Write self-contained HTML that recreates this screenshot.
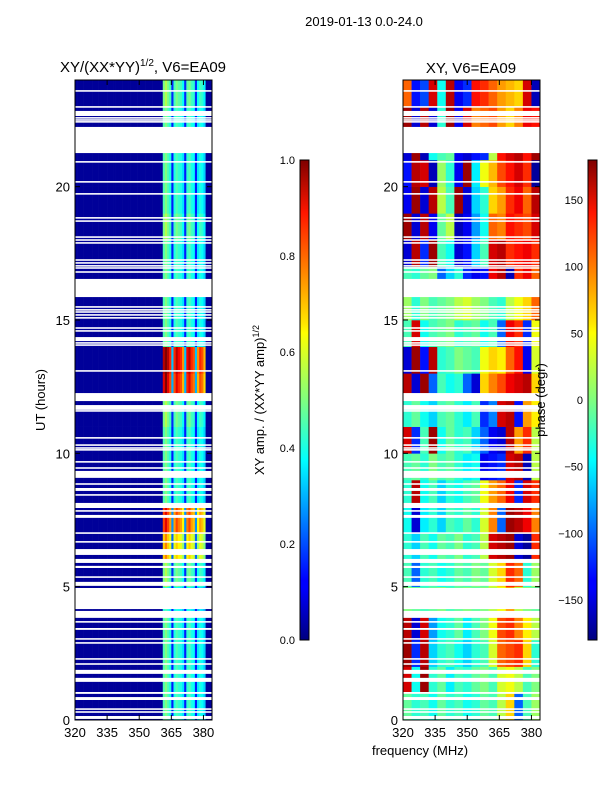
<!DOCTYPE html>
<html><head><meta charset="utf-8"><style>
body{margin:0;background:#fff;}
svg text{font-family:"Liberation Sans",sans-serif;}
</style></head><body>
<svg id="fig" width="600" height="800" xmlns="http://www.w3.org/2000/svg">
<defs>
<linearGradient id="jet" x1="0" y1="1" x2="0" y2="0">
<stop offset="0" stop-color="#00007f"/><stop offset="0.11" stop-color="#0000ff"/><stop offset="0.125" stop-color="#0000ff"/>
<stop offset="0.34" stop-color="#00dcff"/><stop offset="0.375" stop-color="#00ffff"/><stop offset="0.5" stop-color="#7fff7f"/>
<stop offset="0.64" stop-color="#ffff00"/><stop offset="0.66" stop-color="#ffe600"/><stop offset="0.89" stop-color="#ff1600"/>
<stop offset="1" stop-color="#7f0000"/></linearGradient>
</defs>
<text x="364" y="26" font-size="13" text-anchor="middle">2019-01-13 0.0-24.0</text>
<text x="143" y="72" font-size="15" text-anchor="middle">XY/(XX*YY)<tspan font-size="10" dy="-6">1/2</tspan><tspan dy="6">, V6=EA09</tspan></text>
<text x="471" y="73" font-size="15" text-anchor="middle">XY, V6=EA09</text>
<g id="left"></g>
<g id="right"></g>
<g id="axes"></g>
<text transform="translate(45,400) rotate(-90)" font-size="13" text-anchor="middle">UT (hours)</text>
<text transform="translate(264,400) rotate(-90)" font-size="13" text-anchor="middle">XY amp. / (XX*YY amp)<tspan font-size="9" dy="-5">1/2</tspan></text>
<text transform="translate(545,400) rotate(-90)" font-size="13" text-anchor="middle">phase (degr)</text>
<text x="420" y="755" font-size="13" text-anchor="middle">frequency (MHz)</text>
<rect x="300" y="160" width="9" height="480" fill="url(#jet)" stroke="#000" stroke-width="1"/>
<rect x="588" y="160" width="9" height="480" fill="url(#jet)" stroke="#000" stroke-width="1"/>
</svg>
<script>
const freqTicks=[320,335,350,365,380];
const hourTicks=[0,5,10,15,20];
const ampTicks=[0.0,0.2,0.4,0.6,0.8,1.0];
const phaseTicks=[-150,-100,-50,0,50,100,150];
const gapStart=[23.56,22.96,22.65,22.55,22.47,22.40,21.26,20.90,20.15,19.70,18.80,18.68,18.08,17.97,17.86,17.22,17.11,17.00,16.92,16.77,15.86,15.46,15.35,15.27,15.16,15.05,14.67,14.56,14.21,14.11,14.03,13.06,11.96,11.63,11.56,10.55,10.28,10.17,10.10,9.65,9.42,9.08,8.82,8.59,8.41,7.95,7.81,7.58,6.98,6.65,6.19,5.89,5.70,5.33,5.03,4.16,3.83,3.65,3.38,3.01,2.86,2.26,2.07,1.73,1.43,0.98,0.75,0.38,0.27,0.04];
const gapEnd=[23.62,23.02,22.84,22.61,22.53,22.46,22.24,20.96,20.21,19.76,18.86,18.74,18.14,18.03,17.92,17.28,17.17,17.06,16.98,16.83,16.54,15.52,15.41,15.33,15.22,15.11,14.73,14.62,14.36,14.17,14.09,13.12,12.26,11.81,11.62,10.61,10.34,10.23,10.16,9.71,9.48,9.34,8.88,8.70,8.47,8.14,7.87,7.69,7.04,6.71,6.41,6.04,5.78,5.39,5.18,4.95,4.09,3.71,3.45,3.07,2.92,2.32,2.13,1.88,1.58,1.05,0.86,0.44,0.33,0.15];
const ampProfile=[.025,.025,.025,.025,.025,.025,.025,.025,.025,.025,.025,.025,.025,.025,.025,.025,.025,.025,.025,.025,.025,.025,.025,.025,.025,.025,.025,.025,.025,.025,.025,.025,.025,.025,.025,.025,.025,.025,.025,.025,.025,.45,.5,.45,.4,.15,.4,.45,.42,.4,.35,.15,.42,.45,.4,.38,.15,.35,.4,.38,.33,.025,.025,.025];
const ampHourScale=[1,1,1,1,0.9,1.1,1.5,1.8,1,1,1,1.1,2,2.1,1,1,1,1,1.1,1,1,1,1,1.1];
const phase=[
[-10,-30,-20,-40,-10,-30,-20,-40,-30,-10,-20,20,60,-100,-20,10],
[150,-40,170,-30,-10,-50,-20,-30,-10,0,-20,30,40,20,-20,0],
[170,-120,160,-60,-30,-20,-40,-60,-30,-20,30,100,110,120,60,-30],
[160,-150,150,-80,-40,-30,-10,-50,-20,0,40,110,120,90,50,20],
[0,-10,-20,-10,0,-20,-10,0,-10,0,20,40,80,20,0,-10],
[-20,-100,-30,-20,-40,-30,-10,-20,0,-10,30,60,120,100,-30,10],
[-30,-60,-20,-40,-10,-20,0,-30,-20,20,150,160,170,-150,-170,120],
[-40,-150,-50,-30,-60,-20,-30,-10,-30,30,90,-100,170,160,140,90],
[-30,160,-40,-20,-60,-30,-40,-20,-10,40,80,100,140,-120,150,120],
[-20,-10,-30,0,-20,-10,-30,-50,-40,-140,-130,-120,150,160,-160,20],
[150,-120,-20,170,-40,-10,-30,-20,-60,-100,-140,-150,160,80,120,20],
[-30,-10,-40,-60,-20,-10,-30,-50,-20,-120,-90,150,160,-130,80,50],
[160,-150,170,-100,-20,-40,-30,-100,-150,60,90,110,140,150,160,60],
[-150,170,-130,160,-30,-20,0,-10,-20,40,60,50,100,130,-140,30],
[-20,150,-40,-20,-10,0,-30,-20,-10,-40,-20,-100,140,120,-120,40],
[10,-30,0,-20,-10,0,20,30,10,0,-20,-30,20,40,60,100],
[-20,-30,-10,0,-100,-60,-30,-120,-140,-130,140,160,-160,120,140,100],
[-150,160,-120,170,-20,-40,-150,-130,-60,-20,150,160,120,130,140,120],
[170,-150,160,-140,-10,20,-160,-140,-80,-40,100,90,130,120,110,150],
[-140,170,-150,160,20,-20,170,-150,-60,-30,60,80,120,140,100,160],
[-130,160,150,-160,10,-30,-140,170,-50,40,70,110,130,150,120,-170],
[-150,170,-160,-40,-20,-10,-140,-150,-130,-120,20,130,150,160,130,170],
[170,-150,160,-150,-30,170,-140,150,90,100,110,80,60,90,140,130],
[100,-130,-110,150,-40,160,-140,-120,130,120,100,80,70,60,150,-160]];

const NS='http://www.w3.org/2000/svg';
const F0=320,F1=384,PY0=80,PY1=720;
const panels=[{x0:75,x1:212},{x0:403,x1:540}];
function xs(p,f){return p.x0+(f-F0)/(F1-F0)*(p.x1-p.x0);}
function ys(h){return PY1-h/24*(PY1-PY0);}
function cl(v){return Math.max(0,Math.min(1,v));}
function jet(t){t=cl(t);const r=cl(1.5-Math.abs(4*t-3)),g=cl(1.5-Math.abs(4*t-2)),b=cl(1.5-Math.abs(4*t-1));
return 'rgb('+Math.round(r*255)+','+Math.round(g*255)+','+Math.round(b*255)+')';}
function mk(tag,at,parent){const e=document.createElementNS(NS,tag);for(const k in at)e.setAttribute(k,at[k]);parent.appendChild(e);return e;}
const L=document.getElementById('left'),R=document.getElementById('right'),A=document.getElementById('axes');
for(let h=0;h<ampHourScale.length;h++){
 for(let c=0;c<ampProfile.length;c++){
  const v=c>40&&c<61?ampProfile[c]*ampHourScale[h]:ampProfile[c];
  const r=mk('rect',{x:xs(panels[0],F0+c),y:ys(h+1),width:xs(panels[0],F0+c+1)-xs(panels[0],F0+c)+0.3,height:ys(h)-ys(h+1)+0.3,fill:jet(v)},L);
  
  
 }
}
const nF=phase[0].length,df=(F1-F0)/nF;
for(let h=0;h<phase.length;h++){
 for(let c=0;c<nF;c++){
  const r=mk('rect',{x:xs(panels[1],F0+c*df),y:ys(h+1),width:xs(panels[1],F0+(c+1)*df)-xs(panels[1],F0+c*df)+0.3,height:ys(h)-ys(h+1)+0.3,fill:jet((phase[h][c]+180)/360)},R);
  
  
 }
}
for(const p of panels){
 for(let i=0;i<gapStart.length;i++){
  const r=mk('rect',{x:p.x0,y:ys(gapEnd[i]),width:p.x1-p.x0,height:Math.max(1.2,ys(gapStart[i])-ys(gapEnd[i])),fill:'#fff'},A);
  
  
 }
 const fr=mk('rect',{x:p.x0,y:PY0,width:p.x1-p.x0,height:PY1-PY0,fill:'none',stroke:'#000','stroke-width':1},A);
 
 
 for(const f of freqTicks){
  const x=xs(p,f);
  mk('line',{x1:x,x2:x,y1:PY1,y2:PY1-5,stroke:'#000'},A);
  mk('line',{x1:x,x2:x,y1:PY0,y2:PY0+5,stroke:'#000'},A);
  const t=mk('text',{x:x,y:PY1+17,'font-size':13,'text-anchor':'middle'},A);t.textContent=f;
  
  
 }
 for(const h of hourTicks){
  const y=ys(h);
  mk('line',{x1:p.x0,x2:p.x0+5,y1:y,y2:y,stroke:'#000'},A);
  mk('line',{x1:p.x1,x2:p.x1-5,y1:y,y2:y,stroke:'#000'},A);
  const t=mk('text',{x:p.x0-5,y:y+5,'font-size':13,'text-anchor':'end'},A);t.textContent=h;
  
  
 }
}
for(const v of ampTicks){
 const y=640-v*480;
 mk('line',{x1:300,x2:304,y1:y,y2:y,stroke:'#000'},A);mk('line',{x1:305,x2:309,y1:y,y2:y,stroke:'#000'},A);
 const t=mk('text',{x:295,y:y+4,'font-size':11,'text-anchor':'end'},A);t.textContent=v.toFixed(1);
 
 
}
for(const v of phaseTicks){
 const y=400-v/180*240;
 mk('line',{x1:588,x2:592,y1:y,y2:y,stroke:'#000'},A);mk('line',{x1:593,x2:597,y1:y,y2:y,stroke:'#000'},A);
 const t=mk('text',{x:583,y:y+4,'font-size':11,'text-anchor':'end'},A);t.textContent=v<0?'\u2212'+(-v):v;
 
 
}
</script>
</body></html>
